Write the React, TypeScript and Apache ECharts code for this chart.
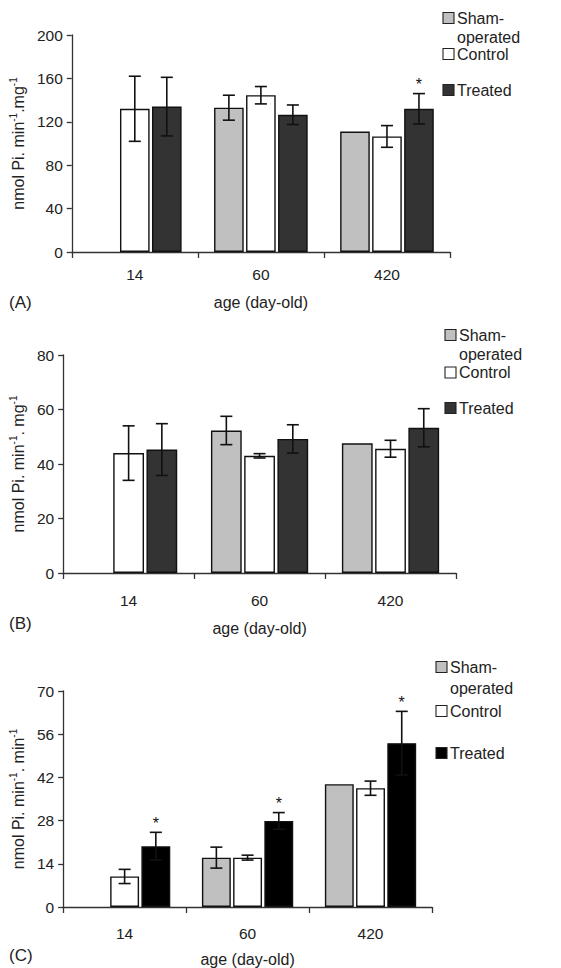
import React, { useEffect, useRef } from "react";
import * as echarts from "echarts";

const categories = ["14", "60", "420"];

// Panel A
const aSham = [null, 133, 111];
const aShamErr = [null, 11.5, null];
const aControl = [132, 144.5, 106.5];
const aControlErr = [30, 8, 10];
const aTreated = [134, 126.5, 132];
const aTreatedErr = [27, 9, 14];
const aTreatedSig = [false, false, true];
const aTicks = { min: 0, max: 200, interval: 40 };

// Panel B
const bSham = [null, 52.3, 47.6];
const bShamErr = [null, 5.2, null];
const bControl = [44, 43, 45.6];
const bControlErr = [10, 0.8, 3.1];
const bTreated = [45.3, 49.2, 53.3];
const bTreatedErr = [9.5, 5.2, 7];
const bTreatedSig = [false, false, false];
const bTicks = { min: 0, max: 80, interval: 20 };

// Panel C
const cSham = [null, 16, 39.8];
const cShamErr = [null, 3.4, null];
const cControl = [9.9, 16, 38.5];
const cControlErr = [2.3, 0.8, 2.3];
const cTreated = [19.7, 27.9, 53.1];
const cTreatedErr = [4.5, 2.7, 10.3];
const cTreatedSig = [true, true, true];
const cTicks = { min: 0, max: 70, interval: 14 };

const seriesNames = ["Sham-operated", "Control", "Treated"];

const FONT = "Liberation Sans, Arial, sans-serif";
const TXT = "#222";
const BAR_W = 0.235;
const BAR_GAP = 0.08;

type Panel = {
  idx: number;
  grid: { left: number; top: number; width: number; height: number };
  ticks: { min: number; max: number; interval: number };
  yName: string;
  yNameGap: number;
  xLabelMargin: number;
  xNameGap: number;
  sham: (number | null)[];
  shamErr: (number | null)[];
  control: (number | null)[];
  controlErr: (number | null)[];
  treated: (number | null)[];
  treatedErr: (number | null)[];
  sig: boolean[];
  treatedColor: string;
  letter: string;
  letterPos: [number, number];
  legend: { iconX: number; textX: number; sham: number; operated: number; control: number; treated: number };
};

const panels: Panel[] = [
  {
    idx: 0,
    grid: { left: 70, top: 35, width: 380, height: 217 },
    ticks: aTicks,
    yName: "{n|nmol Pi. min}{s|-1}{n|.mg}{s|-1}",
    yNameGap: 40,
    xLabelMargin: 14,
    xNameGap: 42,
    sham: aSham, shamErr: aShamErr, control: aControl, controlErr: aControlErr,
    treated: aTreated, treatedErr: aTreatedErr, sig: aTreatedSig,
    treatedColor: "#333333",
    letter: "(A)", letterPos: [9, 302],
    legend: { iconX: 443, textX: 457, sham: 18, operated: 37.5, control: 54, treated: 90 },
  },
  {
    idx: 1,
    grid: { left: 60, top: 355, width: 396, height: 218 },
    ticks: bTicks,
    yName: "{n|nmol Pi. min}{s|-1}{n|. mg}{s|-1}",
    yNameGap: 29,
    xLabelMargin: 19,
    xNameGap: 47,
    sham: bSham, shamErr: bShamErr, control: bControl, controlErr: bControlErr,
    treated: bTreated, treatedErr: bTreatedErr, sig: bTreatedSig,
    treatedColor: "#333333",
    letter: "(B)", letterPos: [9, 623],
    legend: { iconX: 445, textX: 459, sham: 335, operated: 354, control: 372.5, treated: 408 },
  },
  {
    idx: 2,
    grid: { left: 63, top: 691, width: 369, height: 216 },
    ticks: cTicks,
    yName: "{n|nmol Pi. min}{s|-1}{n|. min}{s|-1}",
    yNameGap: 35,
    xLabelMargin: 18,
    xNameGap: 44,
    sham: cSham, shamErr: cShamErr, control: cControl, controlErr: cControlErr,
    treated: cTreated, treatedErr: cTreatedErr, sig: cTreatedSig,
    treatedColor: "#000000",
    letter: "(C)", letterPos: [9, 955],
    legend: { iconX: 436, textX: 450, sham: 667, operated: 688, control: 711, treated: 753 },
  },
];

function errorData(p: Panel) {
  const out: any[] = [];
  const groups = [
    { vals: p.sham, errs: p.shamErr, sig: [false, false, false] },
    { vals: p.control, errs: p.controlErr, sig: [false, false, false] },
    { vals: p.treated, errs: p.treatedErr, sig: p.sig },
  ];
  groups.forEach((g, si) => {
    g.vals.forEach((v, ci) => {
      if (v == null) return;
      const e = g.errs[ci];
      if (e == null && !g.sig[ci]) return;
      out.push([ci, v, e == null ? 0 : e, si, g.sig[ci] ? 1 : 0]);
    });
  });
  return out;
}

function renderError(params: any, api: any) {
  const ci = api.value(0);
  const v = api.value(1);
  const e = api.value(2);
  const si = api.value(3);
  const sig = api.value(4);
  const band = api.size([1, 0])[0];
  const bw = band * BAR_W;
  const off = (si - 1) * bw * (1 + BAR_GAP);
  const c = api.coord([ci, v]);
  const x = c[0] + off;
  const top = api.coord([ci, v + e])[1];
  const bot = api.coord([ci, v - e])[1];
  const st = { stroke: "#111", lineWidth: 1.6 };
  const children: any[] = [];
  if (e > 0) {
    children.push(
      { type: "line", shape: { x1: x, y1: top, x2: x, y2: bot }, style: st },
      { type: "line", shape: { x1: x - 6, y1: top, x2: x + 6, y2: top }, style: st },
      { type: "line", shape: { x1: x - 6, y1: bot, x2: x + 6, y2: bot }, style: st }
    );
  }
  if (sig) {
    children.push({
      type: "text",
      style: {
        text: "*",
        x: x,
        y: top - 9,
        align: "center",
        verticalAlign: "middle",
        font: "16px " + FONT,
        fill: "#111",
      },
    });
  }
  return { type: "group", children };
}

function buildOption() {
  const grids: any[] = [];
  const xAxes: any[] = [];
  const yAxes: any[] = [];
  const series: any[] = [];
  const graphics: any[] = [];

  panels.forEach((p) => {
    grids.push({ ...p.grid, containLabel: false });
    xAxes.push({
      type: "category",
      gridIndex: p.idx,
      data: categories,
      name: "age (day-old)",
      nameLocation: "middle",
      nameGap: p.xNameGap,
      nameTextStyle: { fontFamily: FONT, fontSize: 16, color: TXT },
      axisLine: { show: true, lineStyle: { color: "#333", width: 1.3 } },
      axisTick: { show: true, length: 6, lineStyle: { color: "#333", width: 1.3 } },
      axisLabel: { fontFamily: FONT, fontSize: 15.5, color: TXT, margin: p.xLabelMargin },
      splitLine: { show: false },
    });
    yAxes.push({
      type: "value",
      gridIndex: p.idx,
      min: p.ticks.min,
      max: p.ticks.max,
      interval: p.ticks.interval,
      name: p.yName,
      nameLocation: "middle",
      nameGap: p.yNameGap,
      nameRotate: 90,
      nameTextStyle: {
        fontFamily: FONT,
        fontSize: 16,
        color: TXT,
        rich: {
          n: { fontFamily: FONT, fontSize: 16, color: TXT, lineHeight: 20 },
          s: { fontFamily: FONT, fontSize: 10, color: TXT, verticalAlign: "top", lineHeight: 12 },
        },
      },
      axisLine: { show: true, lineStyle: { color: "#333", width: 1.3 } },
      axisTick: { show: true, length: 5, lineStyle: { color: "#333", width: 1.3 } },
      axisLabel: { fontFamily: FONT, fontSize: 15.5, color: TXT, margin: 9 },
      splitLine: { show: false },
    });

    const colors = ["#c0c0c0", "#ffffff", p.treatedColor];
    const vals = [p.sham, p.control, p.treated];
    vals.forEach((d, si) => {
      series.push({
        type: "bar",
        name: seriesNames[si],
        xAxisIndex: p.idx,
        yAxisIndex: p.idx,
        data: d.map((v) => (v == null ? "-" : v)),
        barWidth: BAR_W * 100 + "%",
        barGap: BAR_GAP * 100 + "%",
        itemStyle: { color: colors[si], borderColor: "#111", borderWidth: 1.4 },
        silent: true,
      });
    });
    series.push({
      type: "custom",
      name: "error" + p.idx,
      xAxisIndex: p.idx,
      yAxisIndex: p.idx,
      data: errorData(p),
      encode: { x: 0, y: 1 },
      renderItem: renderError,
      z: 5,
      silent: true,
    });

    graphics.push({
      type: "text",
      x: p.letterPos[0],
      y: p.letterPos[1],
      style: { text: p.letter, font: "17px " + FONT, fill: TXT, verticalAlign: "middle" },
    });
    const L = p.legend;
    const items = [
      { y: L.sham, color: colors[0] },
      { y: L.control, color: colors[1] },
      { y: L.treated, color: colors[2] },
    ];
    items.forEach((it) => {
      graphics.push({
        type: "rect",
        shape: { x: L.iconX, y: it.y - 5.5, width: 11, height: 11 },
        style: { fill: it.color, stroke: "#222", lineWidth: 1.1 },
      });
    });
    const texts = [
      { t: "Sham-", y: L.sham },
      { t: "operated", y: L.operated },
      { t: "Control", y: L.control },
      { t: "Treated", y: L.treated },
    ];
    texts.forEach((tt) => {
      graphics.push({
        type: "text",
        x: L.textX,
        y: tt.y,
        style: { text: tt.t, font: "16px " + FONT, fill: TXT, verticalAlign: "middle" },
      });
    });
  });

  return {
    animation: false,
    backgroundColor: "#ffffff",
    grid: grids,
    xAxis: xAxes,
    yAxis: yAxes,
    series,
    graphic: graphics,
  };
}

export default function App() {
  const ref = useRef<HTMLDivElement>(null);
  useEffect(() => {
    if (!ref.current) return;
    const chart = echarts.init(ref.current, null, { renderer: "svg" });
    chart.setOption(buildOption() as any);
    return () => chart.dispose();
  }, []);
  return (
    <div
      ref={ref}
      style={{ position: "fixed", left: 0, top: 0, width: 561, height: 968, background: "#fff" }}
    />
  );
}
